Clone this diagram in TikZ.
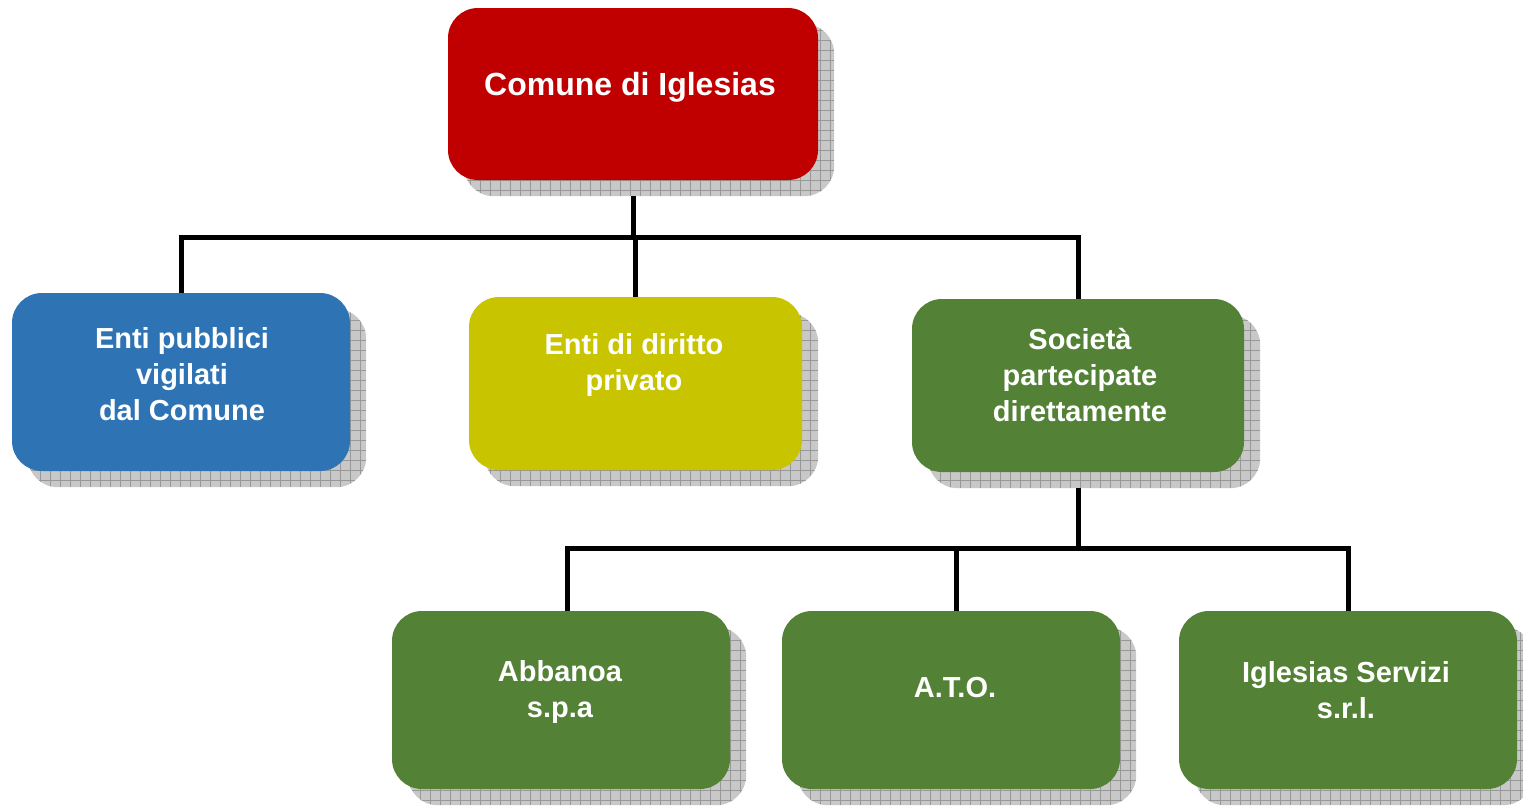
\documentclass[tikz,border=0pt]{standalone}
\usepackage{fontspec}
\setmainfont{Liberation Sans}
\usetikzlibrary{backgrounds}
\definecolor{cred}{HTML}{C00000}
\definecolor{cblue}{HTML}{2E74B5}
\definecolor{cyel}{HTML}{C8C400}
\definecolor{cgreen}{HTML}{538135}
\definecolor{shfill}{HTML}{C8C8C8}
\definecolor{shline}{HTML}{989898}
\tikzset{
  orgbox/.style={rounded corners=30pt, draw=none, inner sep=0pt},
  lbl/.style={text=white, align=center, font=\fontsize{29}{36}\selectfont\bfseries, inner sep=0pt},
  conn/.style={line width=5pt, draw=black, line join=miter},
}
\newcommand\boxshadow[1]{%
  \begin{scope}[on background layer]
    \fill[shfill, rounded corners=30pt] ([shift={(16,16)}]#1.south west) rectangle ([shift={(16,16)}]#1.north east);
    \begin{scope}
      \clip[rounded corners=30pt] ([shift={(16,16)}]#1.south west) rectangle ([shift={(16,16)}]#1.north east);
      \draw[shline, line width=0.7pt, step=10pt] ([shift={(16,16)}]#1.south west) grid ([shift={(16,16)}]#1.north east);
    \end{scope}
  \end{scope}}
\begin{document}
\begin{tikzpicture}[x=1pt, y=-1pt]
\useasboundingbox (0,0) rectangle (1523,806);
% boxes
\node[orgbox, fill=cred, minimum width=370pt, minimum height=172pt] (c) at (633,94) {};
\node[orgbox, fill=cblue, minimum width=338pt, minimum height=178pt] (e1) at (181,382) {};
\node[orgbox, fill=cyel, minimum width=333pt, minimum height=173pt] (e2) at (635.5,383.5) {};
\node[orgbox, fill=cgreen, minimum width=332pt, minimum height=173pt] (e3) at (1078,385.5) {};
\node[orgbox, fill=cgreen, minimum width=338pt, minimum height=178pt] (s1) at (561,700) {};
\node[orgbox, fill=cgreen, minimum width=338pt, minimum height=178pt] (s2) at (951,700) {};
\node[orgbox, fill=cgreen, minimum width=338pt, minimum height=178pt] (s3) at (1348,700) {};
\boxshadow{c}
\boxshadow{e1}
\boxshadow{e2}
\boxshadow{e3}
\boxshadow{s1}
\boxshadow{s2}
\boxshadow{s3}
% labels
\node[lbl, font=\fontsize{32}{38}\selectfont\bfseries] (tc) at (630,87) {Comune di Iglesias};
\node[lbl] (t1) at (182,374) {Enti pubblici\\vigilati\\dal Comune};
\node[lbl] (t2) at (634,365) {Enti di diritto\\privato};
\node[lbl] (t3) at (1080,375.5) {Società\\partecipate\\direttamente};
\node[lbl] (t4) at (560,692) {Abbanoa\\s.p.a};
\node[lbl] (t5) at (955,688) {A.T.O.};
\node[lbl] (t6) at (1346,690) {Iglesias Servizi\\s.r.l.};
% connectors
\coordinate (bus1) at (0,237);
\coordinate (bus2) at (0,548);
\draw[conn] ([yshift=-16pt]c.south) -- (c.south |- bus1);
\draw[conn] (e1.north) -- (e1.north |- bus1) -- (e3.north |- bus1) -- (e3.north);
\draw[conn] (e2.north |- bus1) -- (e2.north);
\draw[conn] ([yshift=-16pt]e3.south) -- (e3.south |- bus2);
\draw[conn] ([xshift=6pt]s1.north) -- ([xshift=6pt]s1.north |- bus2) -- (s3.north |- bus2) -- (s3.north);
\draw[conn] ([xshift=5pt]s2.north |- bus2) -- ([xshift=5pt]s2.north);
\end{tikzpicture}
\end{document}
